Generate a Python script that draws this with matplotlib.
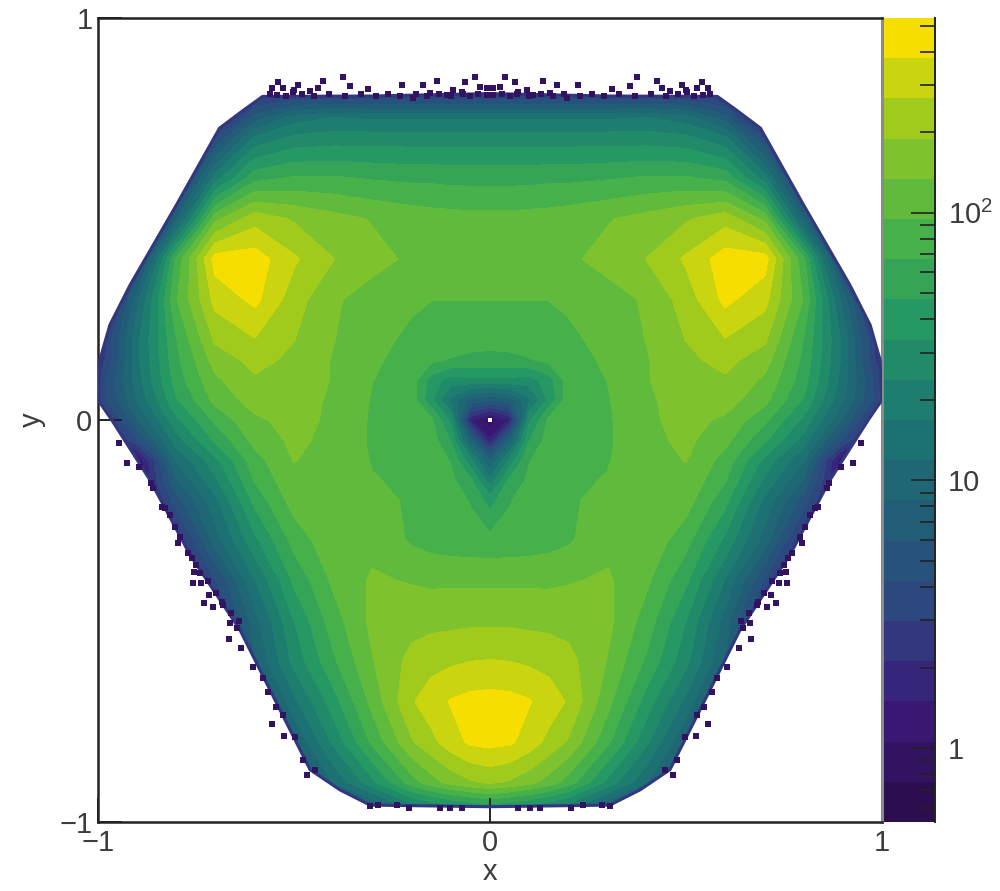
"""Three-lobed 2D density map in x-y with a log colour scale, rebuilt from the picture."""

import matplotlib

matplotlib.use("Agg")
import matplotlib.pyplot as plt
import numpy as np
from matplotlib.colors import LinearSegmentedColormap, Normalize
from matplotlib.patches import Polygon
from matplotlib.ticker import FixedLocator, NullFormatter

# Right half of the map, x >= 0; the left half is its mirror image
X_NODES = [0, 0.05, 0.1, 0.15, 0.2, 0.3, 0.4, 0.5, 0.6, 0.7, 0.8, 0.9, 1.0]
Y_NODES = [0.82, 0.75, 0.7, 0.6, 0.5, 0.4, 0.3, 0.2, 0.15, 0.1, 0.05, 0, -0.05,
           -0.1, -0.15, -0.2, -0.3, -0.4, -0.5, -0.6, -0.7, -0.8, -0.9, -0.96, -1]
COUNTS = [
    [2, 2, 2, 2, 2, 2, 2, 2, 2, 1, 1, 1, 1],
    [16, 16, 16, 16, 16, 16, 17, 14, 7, 1, 1, 1, 1],
    [28, 28, 28, 28, 28, 28, 28, 26, 18, 4, 1, 1, 1],
    [60, 60, 60, 62, 62, 65, 70, 70, 60, 20, 2, 1, 1],
    [105, 105, 108, 110, 115, 130, 150, 180, 230, 120, 8, 1, 1],
    [115, 115, 118, 120, 125, 150, 190, 280, 450, 440, 70, 3, 1],
    [95, 95, 95, 95, 100, 115, 140, 220, 410, 300, 90, 10, 1],
    [75, 75, 80, 85, 88, 105, 135, 190, 260, 200, 65, 15, 2],
    [60, 62, 65, 72, 82, 100, 130, 175, 210, 155, 60, 15, 2],
    [30, 30, 28, 40, 78, 95, 130, 170, 180, 125, 55, 14, 3],
    [6, 7, 15, 35, 78, 92, 125, 160, 155, 105, 45, 12, 3],
    [0.8, 1.5, 30, 70, 82, 90, 125, 150, 125, 72, 30, 8, 1.5],
    [1.5, 8, 45, 78, 82, 90, 120, 145, 105, 50, 20, 4, 1],
    [8, 25, 65, 82, 85, 92, 120, 135, 82, 30, 12, 1, 1],
    [18, 50, 72, 85, 87, 97, 128, 125, 68, 22, 8, 1, 1],
    [40, 65, 78, 86, 90, 105, 130, 110, 52, 15, 5, 1, 1],
    [75, 76, 78, 82, 90, 120, 122, 75, 30, 10, 2, 1, 1],
    [125, 125, 125, 125, 130, 140, 100, 50, 16, 4, 1, 1, 1],
    [175, 175, 172, 170, 165, 145, 80, 33, 10, 2, 1, 1, 1],
    [270, 265, 250, 235, 210, 130, 62, 26, 8, 1, 1, 1, 1],
    [430, 420, 385, 320, 255, 105, 40, 15, 4, 1, 1, 1, 1],
    [420, 400, 320, 240, 180, 72, 25, 8, 2, 1, 1, 1, 1],
    [200, 180, 150, 115, 80, 30, 12, 4, 1, 1, 1, 1, 1],
    [40, 35, 30, 25, 20, 8, 2, 1, 1, 1, 1, 1, 1],
    [2, 2, 2, 2, 2, 1, 1, 1, 1, 1, 1, 1, 1],
]

# Edge of the filled region, right half, top to bottom
EDGE_X = [0, 0.3, 0.58, 0.63, 0.69, 0.80, 0.918, 0.97, 0.995, 1.0, 0.965, 0.867,
          0.765, 0.638, 0.561, 0.459, 0.383, 0.306, 0]
EDGE_Y = [0.812, 0.806, 0.805, 0.77, 0.726, 0.535, 0.336, 0.236, 0.15, 0.05, 0,
          -0.15, -0.336, -0.522, -0.672, -0.87, -0.92, -0.958, -0.962]

# Single-count bins around the edge, |x| and y
DOT_X = [0.946, 0.926, 0.895, 0.865, 0.837, 0.816, 0.804, 0.796, 0.760, 0.755, 0.758,
         0.737, 0.717, 0.730, 0.707, 0.684, 0.663, 0.645, 0.666, 0.635, 0.605, 0.579,
         0.566, 0.546, 0.528, 0.556, 0.526, 0.497, 0.477, 0.467, 0.446, 0.306, 0.286,
         0.237, 0.207, 0.128, 0.102, 0.071, 0.541, 0.528, 0.490, 0.503, 0.426, 0.439,
         0.375, 0.357, 0.311, 0.224, 0.171, 0.135, 0.153, 0.094, 0.064, 0.038, 0.026,
         0.008, 0.556, 0.543, 0.071, 0.110, 0.008, 0.196,
         0.79, 0.77, 0.75, 0.74, 0.72, 0.70, 0.68, 0.66, 0.64, 0.83, 0.86,
         0.56, 0.52, 0.48, 0.45, 0.41, 0.37, 0.33, 0.29, 0.26, 0.23, 0.19, 0.16, 0.13,
         0.10, 0.07, 0.05, 0.03, 0.50, 0.46]
DOT_Y = [-0.057, -0.107, -0.117, -0.157, -0.216, -0.236, -0.266, -0.306, -0.343, -0.378,
         -0.405, -0.405, -0.435, -0.455, -0.465, -0.453, -0.505, -0.517, -0.545, -0.567,
         -0.614, -0.642, -0.677, -0.714, -0.734, -0.756, -0.786, -0.789, -0.846, -0.883,
         -0.871, -0.960, -0.958, -0.958, -0.965, -0.965, -0.965, -0.965, 0.841, 0.826,
         0.833, 0.816, 0.843, 0.826, 0.853, 0.831, 0.823, 0.833, 0.833, 0.843, 0.813,
         0.821, 0.841, 0.853, 0.828, 0.826, 0.826, 0.808, 0.816, 0.808, 0.808, 0.801,
         -0.29, -0.33, -0.36, -0.38, -0.40, -0.43, -0.46, -0.48, -0.50, -0.22, -0.17,
         0.812, 0.805, 0.812, 0.805, 0.812, 0.806, 0.811, 0.805, 0.812, 0.806, 0.812,
         0.806, 0.812, 0.806, 0.812, 0.806, 0.812, 0.822, 0.818]

VMIN = 0.53
VMAX = 534
N_LEVELS = 20

# ROOT kViridis style stops
PALETTE = ["#2c0e50", "#3a1a7a", "#2e4480", "#215e78", "#1c7670",
           "#239665", "#4ab448", "#90c823", "#f6de00"]

plt.rcParams["font.family"] = ["Liberation Sans", "DejaVu Sans"]
plt.rcParams["mathtext.default"] = "regular"
TEXT_COLOR = "#3c3c3c"
FS = 21

x_half = np.array(X_NODES)
x_full = np.hstack([-x_half[:0:-1], x_half])
y_full = np.array(Y_NODES)[::-1]
counts = np.array(COUNTS)[::-1]
z = np.log10(np.hstack([counts[:, :0:-1], counts]))

log_levels = np.linspace(np.log10(VMIN), np.log10(VMAX), N_LEVELS + 1)
cmap = LinearSegmentedColormap.from_list("root_viridis", PALETTE, N=N_LEVELS)
norm = Normalize(vmin=log_levels[0], vmax=log_levels[-1])

W, H = 1000, 891
fig = plt.figure(figsize=(W / 100, H / 100), dpi=100)
ax = fig.add_axes([98 / W, 1 - 822 / H, 784 / W, 804 / H])
cax = fig.add_axes([884 / W, 1 - 822 / H, 51 / W, 804 / H])

cf = ax.contourf(x_full, y_full, z, levels=log_levels, cmap=cmap, norm=norm, extend="both")
cf.set_edgecolor("face")

edge_x = np.array(EDGE_X)
edge_y = np.array(EDGE_Y)
outline = np.column_stack([np.hstack([edge_x, -edge_x[-2:0:-1]]),
                           np.hstack([edge_y, edge_y[-2:0:-1]])])
clip = Polygon(outline, closed=True, transform=ax.transData, fc="none",
               ec=cmap(norm(np.log10(2.5))), lw=2.2, zorder=3)
ax.add_patch(clip)
cf.set_clip_path(clip)

dot_x = np.array(DOT_X)
dot_y = np.array(DOT_Y)
ax.scatter(np.hstack([dot_x, -dot_x]), np.hstack([dot_y, dot_y]), s=13, marker="s",
           color=cmap(norm(0.0)), linewidths=0, zorder=4)
ax.scatter([0], [0], s=7, marker="s", color="white", linewidths=0, zorder=5)

ax.set_xlim(-1, 1)
ax.set_ylim(-1, 1)
ax.set_xticks([-1, 0, 1], ["\u22121", "0", "1"])
ax.set_yticks([-1, 0, 1], ["\u22121", "0", "1"])
ax.tick_params(axis="both", direction="in", length=17, width=1.4, labelsize=FS,
               colors="#222222", labelcolor=TEXT_COLOR)
ax.tick_params(axis="x", pad=5)
ax.tick_params(axis="y", pad=4)
ax.set_xlabel("x", fontsize=FS, color=TEXT_COLOR, labelpad=1)
ax.set_ylabel("y", fontsize=FS, color=TEXT_COLOR, labelpad=10)
for name in ["left", "top", "bottom"]:
    ax.spines[name].set_linewidth(1.8)
    ax.spines[name].set_color("#222222")
ax.spines["right"].set_linewidth(2.2)
ax.spines["right"].set_color("#8a8a8a")

# Colour bar: one flat band per contour level on a log axis
cax.pcolormesh([0, 1], 10**log_levels, 0.5 * (log_levels[:-1] + log_levels[1:]).reshape(-1, 1),
               cmap=cmap, norm=norm)
cax.set_yscale("log")
cax.set_ylim(VMIN, VMAX)
cax.set_xticks([])
for name in ["left", "top", "bottom"]:
    cax.spines[name].set_visible(False)
cax.spines["right"].set_linewidth(1.4)
cax.spines["right"].set_color("#222222")
cax.yaxis.tick_right()
cax.yaxis.set_major_locator(FixedLocator([1, 10, 100]))
cax.yaxis.set_minor_locator(FixedLocator([0.6, 0.7, 0.8, 0.9, 2, 3, 4, 5, 6, 7, 8, 9,
                                          20, 30, 40, 50, 60, 70, 80, 90, 200, 300, 400, 500]))
cax.yaxis.set_minor_formatter(NullFormatter())
cax.set_yticklabels(["1", "10", "$10^{2}$"])
cax.tick_params(axis="y", which="major", direction="in", length=17, width=1.2, pad=9,
                labelsize=FS, colors="#222222", labelcolor=TEXT_COLOR)
cax.tick_params(axis="y", which="minor", direction="in", length=11, width=1.2, colors="#222222")

fig.savefig("out.png", dpi=100)
